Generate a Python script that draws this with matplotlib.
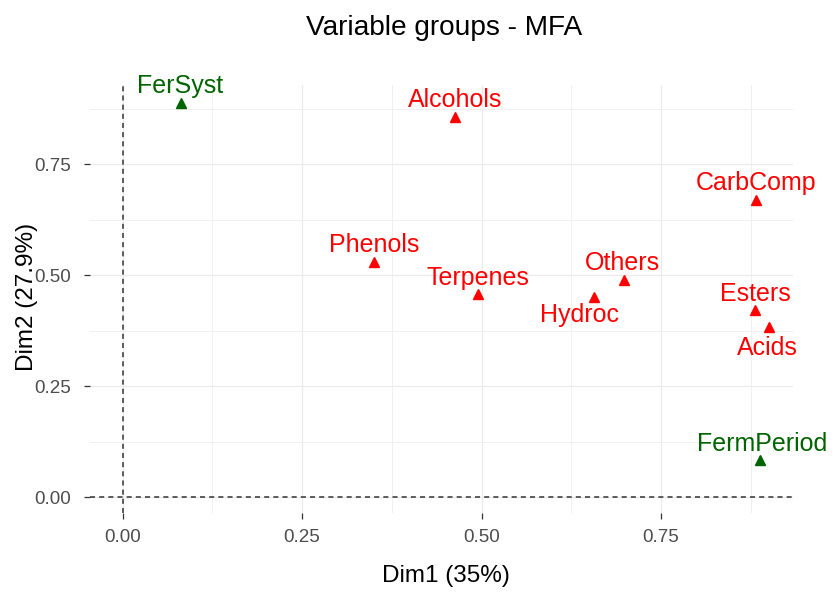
import numpy as np
import matplotlib
matplotlib.use("Agg")
import matplotlib.pyplot as plt
from matplotlib.ticker import MultipleLocator

# coordinates of the variable groups (MFA, dims 1-2)
groups = ["FerSyst", "Alcohols", "CarbComp", "Phenols", "Terpenes",
          "Others", "Hydroc", "Esters", "Acids", "FermPeriod"]
dim1 = [0.081, 0.463, 0.882, 0.350, 0.495, 0.698, 0.657, 0.881, 0.900, 0.888]
dim2 = [0.888, 0.855, 0.670, 0.530, 0.457, 0.489, 0.450, 0.421, 0.382, 0.083]
group_type = ["supp", "active", "active", "active", "active",
              "active", "active", "active", "active", "supp"]

# label placement (pixels from the point, baseline of the text)
label_dx = [-1, 0, 0, 0, 0, -1.5, -15, 0, -1, 2.5]
label_dy = [9.5, 10, 10, 10, 9.5, 9.5, -24.5, 9.5, -28, 9.5]

colors = {"active": "#FF0000", "supp": "#006400"}

W, H = 839, 601
plt.rcParams['font.family'] = ['Liberation Sans', 'DejaVu Sans']
fig = plt.figure(figsize=(W / 100, H / 100), dpi=100)
ax = fig.add_axes([90 / W, 1 - 513 / H, (793 - 90) / W, (513 - 85) / H])

ax.set_xlim(-0.0453, 0.9338)
ax.set_ylim(-0.036, 0.928)

for s in ax.spines.values():
    s.set_visible(False)
ax.xaxis.set_major_locator(MultipleLocator(0.25))
ax.yaxis.set_major_locator(MultipleLocator(0.25))
ax.xaxis.set_minor_locator(MultipleLocator(0.125))
ax.yaxis.set_minor_locator(MultipleLocator(0.125))
ax.grid(which="major", color="#EBEBEB", lw=0.9)
ax.grid(which="minor", color="#F0F0F0", lw=0.7)
ax.set_axisbelow(True)
ax.tick_params(which="major", direction="out", length=4.5, width=0.9,
               color="#333333", labelcolor="#4D4D4D", labelsize=13.5)
ax.tick_params(axis="x", pad=7)
ax.tick_params(axis="y", pad=9)
ax.tick_params(which="minor", length=0)
ax.xaxis.set_major_formatter(lambda v, p: f"{v:.2f}")
ax.yaxis.set_major_formatter(lambda v, p: f"{v:.2f}")

ax.axhline(0, color="#333333", lw=1.1, dashes=(3.3, 2.7), zorder=2)
ax.axvline(0, color="#333333", lw=1.1, dashes=(3.3, 2.7), zorder=2)

for i, name in enumerate(groups):
    c = colors[group_type[i]]
    ax.plot(dim1[i], dim2[i], marker="^", ms=6.5, color=c, ls="none", zorder=3)
    ax.annotate(name, (dim1[i], dim2[i]), xytext=(label_dx[i], label_dy[i]),
                textcoords="offset pixels", ha="center", va="baseline",
                color=c, fontsize=18, zorder=4)

fig.text(444 / W, 1 - 35 / H, "Variable groups - MFA", ha="center",
         va="baseline", fontsize=20.2, color="black")
fig.text(445.7 / W, 1 - 581.7 / H, "Dim1 (35%)", ha="center",
         va="baseline", fontsize=17.5, color="black")
fig.text(33 / W, 1 - 296.5 / H, "Dim2 (27.9%)", ha="center", va="baseline",
         rotation=90, rotation_mode="anchor", fontsize=17.5, color="black")

fig.savefig("out.png", dpi=100)
